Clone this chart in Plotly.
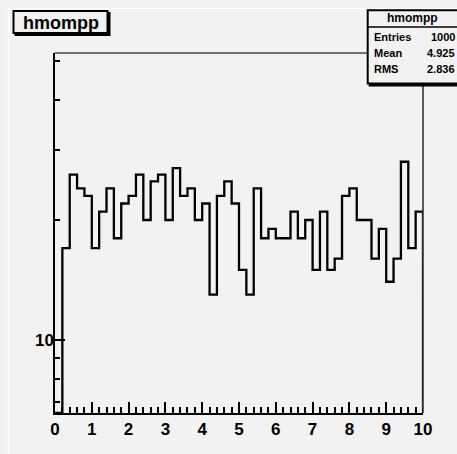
import plotly.graph_objects as go

# Histogram "hmompp": 50 bins on [0, 10]
bin_lo = 0.0
bin_hi = 10.0
counts = [0, 17, 26, 24, 23, 17, 21, 24, 18, 22,
          23, 26, 20, 25, 26, 20, 27, 23, 24, 20,
          22, 13, 23, 25, 22, 15, 13, 24, 18, 19,
          18, 18, 21, 18, 20, 15, 21, 15, 16, 23,
          24, 20, 20, 16, 19, 14, 16, 28, 17, 21]
stats_labels = ["Entries", "Mean", "RMS"]
stats_values = ["1000", "4.925", "2.836"]
hist_name = "hmompp"

y_range_log = [0.8169, 1.7199]
y_floor = 10 ** y_range_log[0]
y_minor_ticks = [7, 8, 9, 20, 30, 40, 50]
y_major_ticks = [10]

BG = "#f2f2f2"
FONT = "Liberation Sans"

nb = len(counts)
width = (bin_hi - bin_lo) / nb
edges = [bin_lo + i * width for i in range(nb + 1)]

# step outline: starts and ends on the axis floor, empty bins sit on the floor
xs = [edges[0]] + edges[:-1] + [edges[-1], edges[-1]]
ys_vals = [max(c, y_floor) for c in counts]
ys = [y_floor] + ys_vals + [ys_vals[-1], y_floor]

fig = go.Figure()
fig.add_trace(go.Scatter(x=xs, y=ys, mode="lines", line_shape="hv",
                         line=dict(color="black", width=2.3),
                         hoverinfo="skip", showlegend=False))
fig.add_trace(go.Scatter(x=[None], y=[None], yaxis="y2", showlegend=False))

# plot area in pixels
L, R, T, B = 55, 423, 53, 413
W, H = R - L, B - T


def px(x):
    return (x - L) / W


def py(y):
    return (B - y) / H


shapes = []
# canvas bevel
shapes.append(dict(type="line", xref="paper", yref="paper",
                   x0=px(8.5), x1=px(8.5), y0=py(8), y1=py(454),
                   line=dict(color="white", width=1.5)))
shapes.append(dict(type="line", xref="paper", yref="paper",
                   x0=px(8), x1=px(457), y0=py(8.5), y1=py(8.5),
                   line=dict(color="white", width=1.5)))
# frame top / right
shapes.append(dict(type="line", xref="paper", yref="paper",
                   x0=0, x1=1, y0=1, y1=1, line=dict(color="#444", width=1.6)))
shapes.append(dict(type="line", xref="paper", yref="paper",
                   x0=1, x1=1, y0=0, y1=1, line=dict(color="#333", width=1.6)))


def box(x0, y0, x1, y1):
    # shadow then box
    shapes.append(dict(type="rect", xref="paper", yref="paper",
                       x0=px(x0 + 2), x1=px(x1 + 2), y0=py(y0 + 2), y1=py(y1 + 2),
                       fillcolor="black", line=dict(color="black", width=2)))
    shapes.append(dict(type="rect", xref="paper", yref="paper",
                       x0=px(x0), x1=px(x1), y0=py(y0), y1=py(y1),
                       fillcolor=BG, line=dict(color="black", width=2)))


# title box
box(13.5, 11, 107.5, 33)
# stats box
box(367.7, 10.3, 462, 83.5)
shapes.append(dict(type="line", xref="paper", yref="paper",
                   x0=px(367.7), x1=px(462), y0=py(27), y1=py(27),
                   line=dict(color="black", width=1.6)))

annotations = []
annotations.append(dict(text=hist_name, xref="paper", yref="paper",
                        x=px(60.5), y=py(22.5), xanchor="center", yanchor="middle",
                        showarrow=False,
                        font=dict(family=FONT, size=18, color="black", weight="bold")))
annotations.append(dict(text=hist_name, xref="paper", yref="paper",
                        x=px(412.5), y=py(18.5), xanchor="center", yanchor="middle",
                        showarrow=False,
                        font=dict(family=FONT, size=12, color="black", weight="bold")))
row_y = [37, 52.5, 69]
for lab, val, yy in zip(stats_labels, stats_values, row_y):
    annotations.append(dict(text=lab, xref="paper", yref="paper",
                            x=px(372), y=py(yy), xanchor="left", yanchor="middle",
                            showarrow=False,
                            font=dict(family=FONT, size=11, color="black", weight="bold")))
    annotations.append(dict(text=val, xref="paper", yref="paper",
                            x=px(457), y=py(yy), xanchor="right", yanchor="middle",
                            showarrow=False,
                            font=dict(family=FONT, size=11, color="black", weight="bold")))

fig.update_layout(
    width=457, height=454,
    margin=dict(l=L, r=457 - R, t=T, b=454 - B),
    paper_bgcolor=BG, plot_bgcolor=BG,
    showlegend=False,
    xaxis=dict(range=[bin_lo, bin_hi], dtick=1, tick0=0,
               ticks="inside", ticklen=11, tickwidth=2, tickcolor="black",
               minor=dict(dtick=0.2, tick0=0, ticks="inside", ticklen=6,
                          tickwidth=2, tickcolor="black"),
               showline=True, linecolor="black", linewidth=2,
               showgrid=False, zeroline=False,
               tickfont=dict(family=FONT, size=17, color="black", weight="bold")),
    yaxis=dict(type="log", range=y_range_log,
               tickvals=y_minor_ticks, showticklabels=False,
               ticks="inside", ticklen=5, tickwidth=2, tickcolor="black",
               showline=True, linecolor="black", linewidth=2,
               showgrid=False, zeroline=False),
    yaxis2=dict(type="log", range=y_range_log, overlaying="y", side="left",
                tickvals=y_major_ticks, ticktext=[str(v) for v in y_major_ticks],
                ticks="inside", ticklen=10, tickwidth=2, tickcolor="black",
                showline=False, showgrid=False, zeroline=False,
                tickfont=dict(family=FONT, size=17, color="black", weight="bold")),
    shapes=shapes,
    annotations=annotations,
)

fig.write_html("out.html")
